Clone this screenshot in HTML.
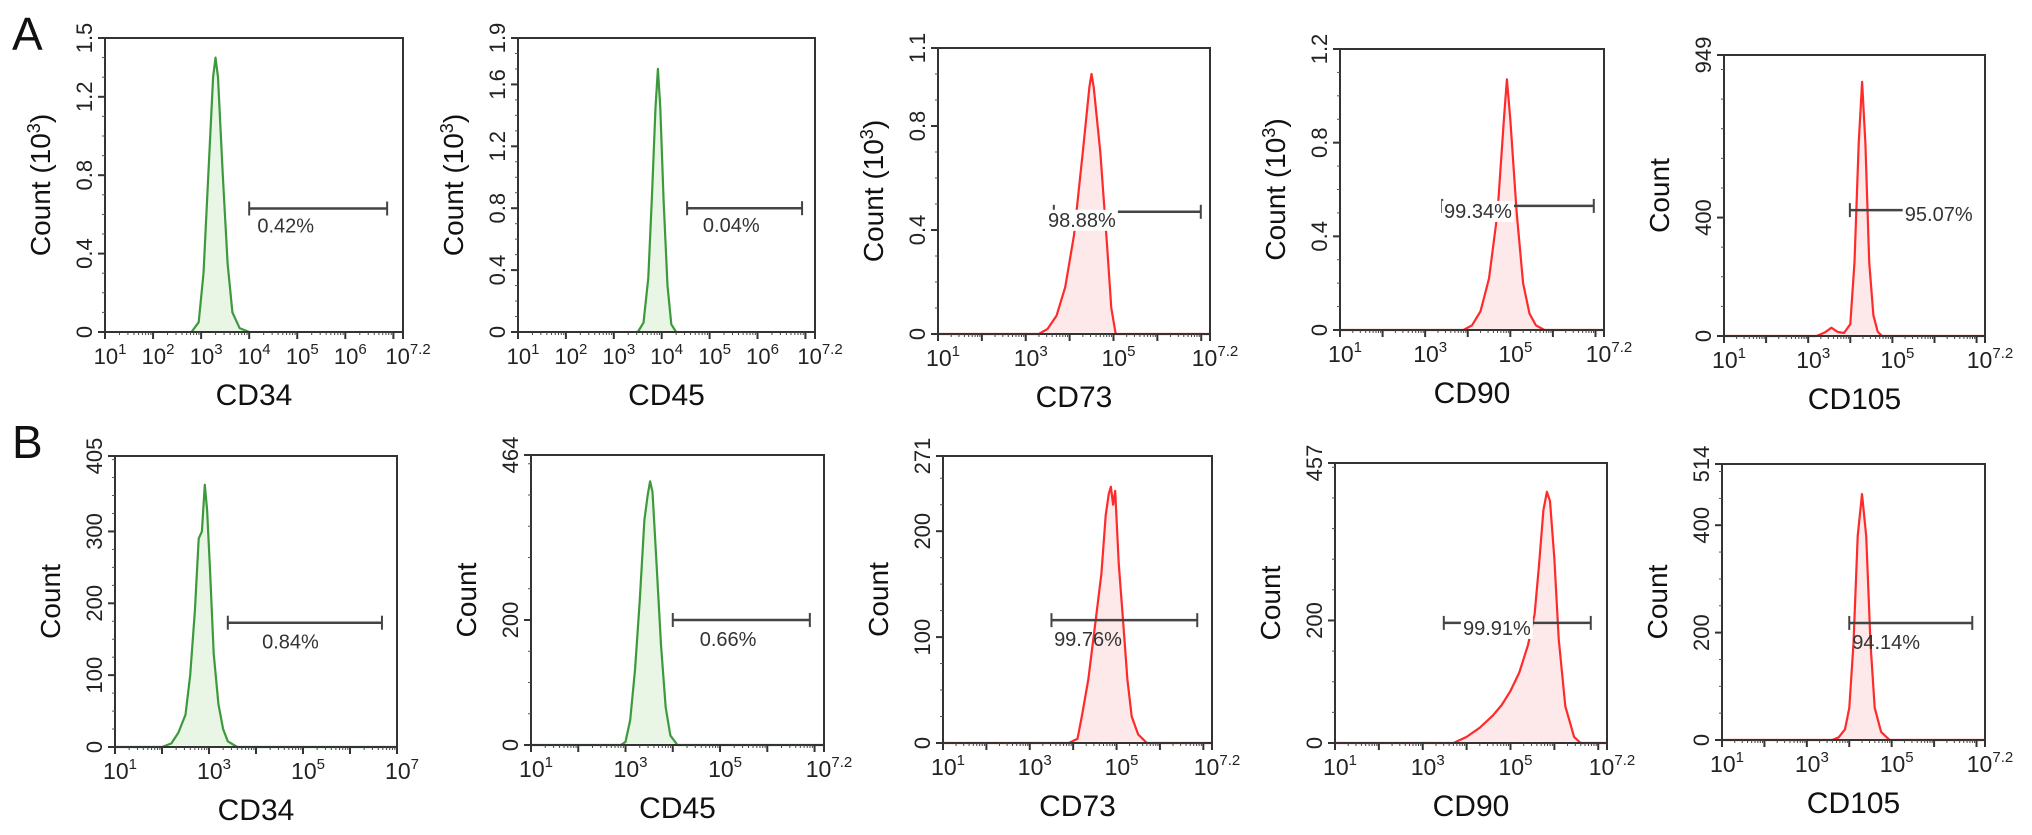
<!DOCTYPE html>
<html><head><meta charset="utf-8"><style>
html,body{margin:0;padding:0;background:#fff;}
svg{display:block;font-family:"Liberation Sans",Arial,sans-serif;}
</style></head><body>
<svg id="fig" width="2032" height="835" viewBox="0 0 2032 835" xmlns="http://www.w3.org/2000/svg">
<text x="12" y="50" font-size="46" fill="#111">A</text>
<text x="12" y="458" font-size="46" fill="#111">B</text>
</svg>
<script>
// ---- data (log10 fluorescence, count) ----
const a34X=[2.8,2.95,3.05,3.15,3.25,3.3,3.35,3.45,3.55,3.65,3.8,4.0];
const a34Y=[0,0.05,0.3,0.8,1.3,1.4,1.3,0.8,0.35,0.1,0.02,0];
const a45X=[3.5,3.62,3.72,3.8,3.87,3.92,3.97,4.04,4.12,4.2,4.3];
const a45Y=[0,0.06,0.35,0.9,1.45,1.7,1.45,0.85,0.3,0.05,0];
const a73X=[1,3.3,3.5,3.7,3.9,4.1,4.3,4.45,4.5,4.55,4.7,4.85,4.95,5.05,7.2];
const a73Y=[0,0,0.02,0.07,0.18,0.38,0.7,0.95,1.0,0.95,0.7,0.35,0.1,0.0,0];
const a90X=[1,3.9,4.1,4.3,4.5,4.7,4.85,4.92,5.0,5.15,5.3,5.45,5.6,5.8,7.2];
const a90Y=[0,0,0.02,0.08,0.22,0.5,0.9,1.07,0.9,0.5,0.2,0.07,0.02,0,0];
const a105X=[1,3.2,3.4,3.55,3.7,3.85,4.0,4.1,4.2,4.28,4.36,4.45,4.55,4.65,4.75,7.2];
const a105Y=[0,0,12,28,14,10,40,250,650,858,650,250,70,15,0,0];
const b34X=[1,2.0,2.2,2.35,2.5,2.6,2.7,2.78,2.85,2.91,2.96,3.02,3.1,3.2,3.3,3.4,3.6,7];
const b34Y=[0,0,5,20,45,100,190,290,300,365,330,250,130,60,25,8,0,0];
const b45X=[1,2.9,3.0,3.1,3.2,3.3,3.4,3.47,3.52,3.57,3.65,3.75,3.85,3.95,4.1,7.2];
const b45Y=[0,0,5,40,120,230,360,400,422,405,300,160,60,15,0,0];
const b73X=[1,3.9,4.1,4.2,4.35,4.5,4.65,4.75,4.82,4.87,4.92,4.97,5.05,5.15,5.25,5.35,5.5,5.7,7.2];
const b73Y=[0,0,4,25,60,110,160,215,235,242,225,238,170,115,60,25,8,0,0];
const b90X=[1,3.7,4.0,4.3,4.6,4.8,5.0,5.2,5.4,5.55,5.65,5.75,5.83,5.9,6.0,6.1,6.25,6.45,6.6,7.2];
const b90Y=[0,0,10,25,45,62,85,115,160,210,290,380,410,395,300,170,60,10,0,0];
const b105X=[1,3.6,3.75,3.9,4.0,4.1,4.2,4.3,4.4,4.5,4.6,4.75,4.95,7.2];
const b105Y=[0,0,5,20,60,180,380,458,380,180,60,15,0,0];
// ---- axes / gates ----
const yTicksA34=[0,0.4,0.8,1.2,1.5];
const yTicksA45=[0,0.4,0.8,1.2,1.6,1.9];
const yTicksA73=[0,0.4,0.8,1.1];
const yTicksA90=[0,0.4,0.8,1.2];
const yTicksA105=[0,400,949];
const yTicksB34=[0,100,200,300,405];
const yTicksB45=[0,200,464];
const yTicksB73=[0,100,200,271];
const yTicksB90=[0,200,457];
const yTicksB105=[0,200,400,514];
const xLabelsDense=[1,2,3,4,5,6,7.2];
const xLabelsSparse=[1,3,5,7.2];
const xLabelsB34=[1,3,5,7];
const percentLabels=["0.42%","0.04%","98.88%","99.34%","95.07%","0.84%","0.66%","99.76%","99.91%","94.14%"];
const gateLeft=[4.0,4.53,3.64,3.4,3.99,3.4,4.0,3.5,3.48,4.0];
const gateRight=[6.87,6.93,6.99,6.96,6.0,6.68,6.9,6.86,6.83,6.9];
const gateLevel=[0.63,0.80,0.47,0.53,425,173,200,116,196,218];

const NS="http://www.w3.org/2000/svg";
const svg=document.getElementById('fig');
function mk(tag,attrs,parent){const e=document.createElementNS(NS,tag);for(const k in attrs)e.setAttribute(k,attrs[k]);(parent||svg).appendChild(e);return e;}

const panels=[
 {n:'a-cd34',l:105,t:38,r:403,b:332,xmax:7.2,ymax:1.5,yt:yTicksA34,xl:xLabelsDense,X:a34X,Y:a34Y,g:0,lab:{x:4.17,dy:24,mode:'start'},ylab:'Count (10³)',title:'CD34',green:true,dense:true},
 {n:'a-cd45',l:518,t:38,r:815,b:332,xmax:7.2,ymax:1.9,yt:yTicksA45,xl:xLabelsDense,X:a45X,Y:a45Y,g:1,lab:{x:4.86,dy:24,mode:'start'},ylab:'Count (10³)',title:'CD45',green:true,dense:true},
 {n:'a-cd73',l:938,t:48,r:1210,b:334,xmax:7.2,ymax:1.1,yt:yTicksA73,xl:xLabelsSparse,X:a73X,Y:a73Y,g:2,lab:{x:4.28,dy:15,mode:'middle',bg:true},ylab:'Count (10³)',title:'CD73'},
 {n:'a-cd90',l:1340,t:49,r:1604,b:330,xmax:7.2,ymax:1.2,yt:yTicksA90,xl:xLabelsSparse,X:a90X,Y:a90Y,g:3,lab:{x:4.24,dy:12,mode:'middle',bg:true},ylab:'Count (10³)',title:'CD90'},
 {n:'a-cd105',l:1724,t:55,r:1985,b:336,xmax:7.2,ymax:949,yt:yTicksA105,xl:xLabelsSparse,X:a105X,Y:a105Y,g:4,lab:{x:6.1,dy:11,mode:'middle',bg:true},ylab:'Count',title:'CD105',noRight:true},
 {n:'b-cd34',l:115,t:456,r:397,b:747,xmax:7,ymax:405,yt:yTicksB34,xl:xLabelsB34,X:b34X,Y:b34Y,g:5,lab:{x:4.13,dy:26,mode:'start'},ylab:'Count',title:'CD34',green:true},
 {n:'b-cd45',l:531,t:455,r:824,b:745,xmax:7.2,ymax:464,yt:yTicksB45,xl:xLabelsSparse,X:b45X,Y:b45Y,g:6,lab:{x:4.57,dy:26,mode:'start'},ylab:'Count',title:'CD45',green:true},
 {n:'b-cd73',l:943,t:456,r:1212,b:743,xmax:7.2,ymax:271,yt:yTicksB73,xl:xLabelsSparse,X:b73X,Y:b73Y,g:7,lab:{x:3.56,dy:26,mode:'start'},ylab:'Count',title:'CD73'},
 {n:'b-cd90',l:1335,t:463,r:1607,b:743,xmax:7.2,ymax:457,yt:yTicksB90,xl:xLabelsSparse,X:b90X,Y:b90Y,g:8,lab:{x:4.69,dy:12,mode:'middle',bg:true},ylab:'Count',title:'CD90'},
 {n:'b-cd105',l:1722,t:464,r:1985,b:740,xmax:7.2,ymax:514,yt:yTicksB105,xl:xLabelsSparse,X:b105X,Y:b105Y,g:9,lab:{x:4.07,dy:26,mode:'start'},ylab:'Count',title:'CD105'}
];

panels.forEach(p=>{
 const g=mk('g',{});
 
 
 const sx=v=>p.l+(v-1)/(p.xmax-1)*(p.r-p.l);
 const sy=v=>p.b-v/p.ymax*(p.b-p.t);
 const stroke=p.green?'#3c9a3c':'#ff2a2a', fill=p.green?'#e9f6e5':'#fde9e9';
 let d='M'+sx(p.X[0])+','+sy(0);
 for(let i=0;i<p.X.length;i++) d+=' L'+sx(p.X[i]).toFixed(1)+','+sy(p.Y[i]).toFixed(1);
 d+=' L'+sx(p.X[p.X.length-1])+','+sy(0)+' Z';
 const area=mk('path',{d:d,fill:fill,stroke:'none'},g);
 
 
 let d2='';
 for(let i=0;i<p.X.length;i++) d2+=(i?' L':'M')+sx(p.X[i]).toFixed(1)+','+sy(p.Y[i]).toFixed(1);
 const line=mk('path',{d:d2,fill:'none',stroke:stroke,'stroke-width':2.2,'stroke-linejoin':'round'},g);
 
 
 const fr=mk('rect',{x:p.l,y:p.t,width:p.r-p.l,height:p.b-p.t,fill:'none',stroke:'#333','stroke-width':2},g);
 
 
 for(let dd=1;dd<p.xmax;dd++){
  for(let m=2;m<=9;m++){const v=dd+Math.log10(m); if(v>p.xmax)break;
   mk('line',{x1:sx(v),x2:sx(v),y1:p.b,y2:p.b+3,stroke:'#444','stroke-width':1},g);}
 }
 for(let dd=1;dd<=Math.floor(p.xmax);dd++) mk('line',{x1:sx(dd),x2:sx(dd),y1:p.b,y2:p.b+7,stroke:'#333','stroke-width':2},g);
 mk('line',{x1:sx(p.xmax),x2:sx(p.xmax),y1:p.b,y2:p.b+7,stroke:'#333','stroke-width':2},g);
 p.xl.forEach(v=>{
  const t=mk('text',{x:sx(v)+5,y:p.b+32,'font-size':p.dense?22:23,'text-anchor':'middle',fill:'#222'},g);
  
  
  t.appendChild(document.createTextNode('10'));
  const s=mk('tspan',{'font-size':15,dy:-10},t); s.textContent=String(v);
 });
 const minorStep=p.yt[1]/4;
 for(let v=0;v<=p.ymax;v+=minorStep) mk('line',{x1:p.l-3,x2:p.l,y1:sy(v),y2:sy(v),stroke:'#555','stroke-width':1},g);
 p.yt.forEach(v=>{
  mk('line',{x1:p.l-7,x2:p.l,y1:sy(v),y2:sy(v),stroke:'#333','stroke-width':2},g);
  const y=sy(v), x=p.l-13;
  const t=mk('text',{x:x,y:y,'font-size':22,'text-anchor':'middle',fill:'#222',transform:'rotate(-90 '+x+' '+y+')'},g);
  
  
  t.textContent=String(v);
 });
 const yx=p.l-55, yy=(p.t+p.b)/2;
 const yt=mk('text',{x:yx,y:yy,'font-size':28,'text-anchor':'middle',fill:'#111',transform:'rotate(-90 '+yx+' '+yy+')'},g);
 
 
 if(p.ylab==='Count'){yt.textContent='Count';}
 else{yt.appendChild(document.createTextNode('Count (10'));const s=mk('tspan',{'font-size':18,dy:-10},yt);s.textContent='3';const s2=mk('tspan',{dy:10},yt);s2.textContent=')';}
 const xt=mk('text',{x:(p.l+p.r)/2,y:p.b+73,'font-size':30,'text-anchor':'middle',fill:'#111'},g);
 
 
 xt.textContent=p.title;
 const gy=sy(gateLevel[p.g]), gx1=sx(gateLeft[p.g]), gx2=sx(gateRight[p.g]);
 const gl=mk('line',{x1:gx1,x2:gx2,y1:gy,y2:gy,stroke:'#444','stroke-width':2.5},g);
 
 
 mk('line',{x1:gx1,x2:gx1,y1:gy-7,y2:gy+7,stroke:'#444','stroke-width':2},g);
 if(!p.noRight) mk('line',{x1:gx2,x2:gx2,y1:gy-7,y2:gy+7,stroke:'#444','stroke-width':2},g);
 const lx=sx(p.lab.x), ly=gy+p.lab.dy;
 if(p.lab.bg){const w=percentLabels[p.g].length*11+6;mk('rect',{x:(p.lab.mode==='middle'?lx-w/2:lx-3),y:ly-17,width:w,height:21,fill:'#fff'},g);}
 const pl=mk('text',{x:lx,y:ly,'font-size':20,'text-anchor':p.lab.mode,fill:'#333'},g);
 
 
 pl.textContent=percentLabels[p.g];
});
</script>
</body></html>
